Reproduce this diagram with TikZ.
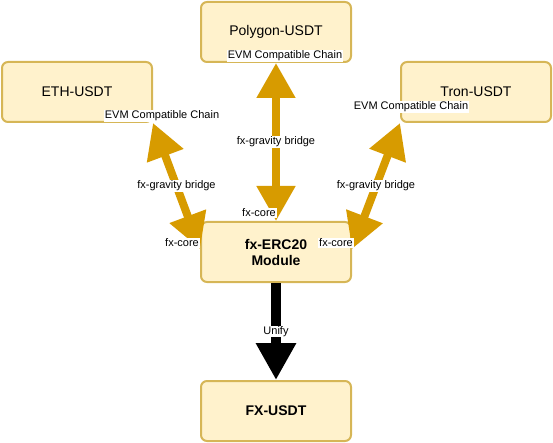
\documentclass[tikz,border=0pt]{standalone}
\usepackage{fontspec}
\setmainfont{Liberation Sans}
\usetikzlibrary{arrows.meta}
\usetikzlibrary{positioning}

\definecolor{boxfill}{HTML}{FFF2CC}
\definecolor{boxline}{HTML}{D6B656}
\definecolor{bridgegold}{HTML}{D79B00}

\begin{document}
\begin{tikzpicture}[x=1pt, y=-1pt,
            chain/.style = {draw=boxline, fill=boxfill, line width=2pt,
                rounded corners=6pt, minimum width=150pt, minimum height=60pt,
                align=center, font=\fontsize{14}{16}\selectfont},
            lbl/.style = {fill=white, inner sep=0.8pt,
                font=\fontsize{11}{12}\selectfont},
            bridge/.style = {draw=bridgegold, line width=8pt,
                {Triangle[length=35pt,width=37pt]}-{Triangle[length=35pt,width=37pt]}},
            unify/.style = {draw=black, line width=10pt,
                -{Triangle[length=37pt,width=38pt]}}]
            \useasboundingbox (0,0) rectangle (553,443);
            % chains
            \node[chain](poly) at (276,32) {Polygon-USDT};
            \node[chain](eth) at (77,92) {ETH-USDT};
            \node[chain](tron) at (476,92) {Tron-USDT};
            \node[chain, font=\fontsize{14}{16}\selectfont\bfseries](erc) at (276,252) {fx-ERC20\\Module};
            \node[chain, font=\fontsize{14}{16}\selectfont\bfseries](fxusdt) at (276,411) {FX-USDT};
            % bridges
            \path[bridge] (eth.south east) -- node[lbl]{fx-gravity bridge} ([yshift=3pt]erc.west);
            \path[bridge] (poly.south) -- node[lbl]{fx-gravity bridge} (erc.north);
            \path[bridge] (tron.south west) -- node[lbl]{fx-gravity bridge} ([yshift=3pt]erc.east);
            \path[unify] (erc.south) -- node[lbl]{Unify} (fxusdt.north);
            % end labels
            \node[lbl](evmeth) at (162,116) {EVM Compatible Chain};
            \node[lbl](evmpoly) at (285,56) {EVM Compatible Chain};
            \node[lbl](evmtron) at (411,107) {EVM Compatible Chain};
            \node[lbl](coreeth) at (182,243) {fx-core};
            \node[lbl](corepoly) at (259,213) {fx-core};
            \node[lbl](coretron) at (336,243) {fx-core};
        \end{tikzpicture}
\end{document}
